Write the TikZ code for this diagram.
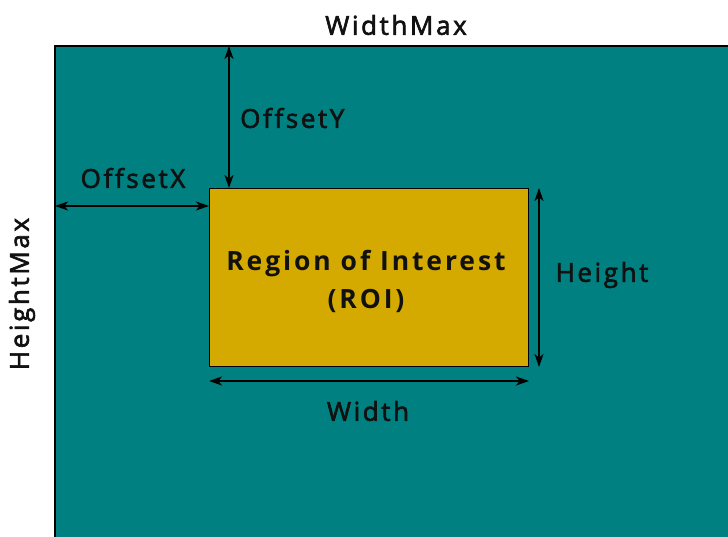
\documentclass[tikz,border=0pt]{standalone}
\usepackage{fontspec}
\setmainfont{Open Sans}
\newfontfamily\lblfont{Open Sans}[LetterSpace=10, FakeBold=2.4, Ligatures=NoCommon]
\newfontfamily\roifont{Open Sans Bold}[LetterSpace=11, Ligatures=NoCommon]
\usetikzlibrary{arrows.meta}
\definecolor{tealfield}{HTML}{008080}
\definecolor{roigold}{HTML}{D4AA00}
\definecolor{txt}{HTML}{111111}
\tikzset{
  lbl/.style={text=txt, font=\lblfont\fontsize{26}{38}\selectfont, inner sep=0pt},
  dim/.style={draw=black, line width=1.6pt, {Stealth[length=13pt,width=9pt,inset=3.5pt]}-{Stealth[length=13pt,width=9pt,inset=3.5pt]}},
}
\begin{document}
\begin{tikzpicture}[x=1pt,y=-1pt]
\useasboundingbox (0,0) rectangle (728,536);
\clip (0,0) rectangle (728,536);
\fill[tealfield] (55,46) rectangle (740,550);
\draw[black, line width=1.6pt] (55,550) -- (55,46) -- (740,46);
\node[draw=black, line width=1pt, fill=roigold, minimum width=319pt, minimum height=178pt, inner sep=0pt, anchor=north west] (roi) at (209,188) {};
\node[lbl, font=\roifont\fontsize{26.5}{38}\selectfont, align=center] (roitext) at (366,281) {Region of Interest\\(ROI)};
\coordinate (oy) at (229,46);
\coordinate (ox) at (55,206);
\coordinate (hx) at (539,188);
\coordinate (wy) at (209,381);
\draw[dim] (oy) -- (oy |- roi.north);
\draw[dim] (ox) -- (ox -| roi.west);
\draw[dim] (hx |- roi.north) -- (hx |- roi.south);
\draw[dim] (wy -| roi.west) -- (wy -| roi.east);
\node[lbl] (widthmax) at (396,25) {WidthMax};
\node[lbl, anchor=west] (offy) at (240,118) {OffsetY};
\node[lbl] (offx) at (133,178) {OffsetX};
\node[lbl, rotate=90] (heightmax) at (22,294) {HeightMax};
\node[lbl] (height) at (602,275) {Height};
\node[lbl] (width) at (368,411) {Width};
\end{tikzpicture}
\end{document}
